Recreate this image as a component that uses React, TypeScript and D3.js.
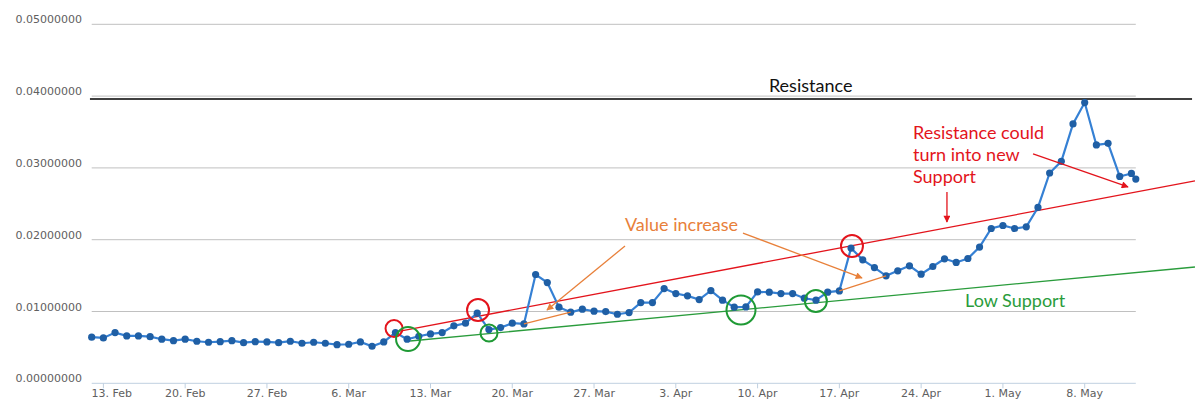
import React from "react";
import * as d3 from "d3";

// daily closing values from 12 Feb 2017, the last one is a partial day
const startDate = "2017-02-12";
const lastTimestamp = "2017-05-12T09:00:00Z";
const values = [
  0.00642, 0.00632, 0.00706, 0.0066, 0.0066, 0.0065, 0.00614, 0.00594, 0.00614, 0.00586,
  0.00572, 0.0058, 0.00594, 0.00566, 0.0058, 0.00576, 0.00566, 0.00586, 0.00558, 0.00572,
  0.00558, 0.00538, 0.00544, 0.00576, 0.00516, 0.00576, 0.00706, 0.00614, 0.00655, 0.00688,
  0.00706, 0.008, 0.00837, 0.00976, 0.00748, 0.00776, 0.00837, 0.00827, 0.01515, 0.01403,
  0.0106, 0.0099, 0.01032, 0.01004, 0.00999, 0.00962, 0.00985, 0.01124, 0.01124, 0.01319,
  0.0125, 0.01218, 0.01166, 0.01292, 0.01158, 0.0106, 0.01064, 0.01273, 0.01269, 0.0125,
  0.0125, 0.01185, 0.01158, 0.01269, 0.01287, 0.01883, 0.0172, 0.01612, 0.01497, 0.01566,
  0.01636, 0.0152, 0.01627, 0.01734, 0.01683, 0.01738, 0.01897, 0.02156, 0.02198, 0.02156,
  0.0218, 0.02449, 0.02929, 0.03091, 0.03612, 0.0391, 0.0332, 0.03342, 0.02881, 0.02923,
  0.02845,
];
const yTicks = [0, 0.01, 0.02, 0.03, 0.04, 0.05];

// hand drawn annotations, in (day offset, value)
const trendLines = [
  { color: "#e3141c", from: [26.39, 0.00728], to: [94.44, 0.02819] },
  { color: "#2a9c3c", from: [27.25, 0.00589], to: [94.44, 0.0162] },
];
const resistance = { from: [-0.15, 0.0396], to: [94.19, 0.0396] };
const circles = [
  { color: "#e3141c", at: [25.88, 0.00763], r: 8.5 },
  { color: "#1f9a35", at: [27.08, 0.00617], r: 12 },
  { color: "#e3141c", at: [33.07, 0.01021], r: 11 },
  { color: "#1f9a35", at: [34.01, 0.00701], r: 8.5 },
  { color: "#1f9a35", at: [55.58, 0.01021], r: 14.5 },
  { color: "#1f9a35", at: [61.99, 0.01146], r: 11 },
  { color: "#e3141c", at: [65.08, 0.01912], r: 11 },
];
const arrows = [
  { color: "#e8803a", from: [45.65, 0.01912], to: [38.97, 0.01021] },
  { color: "#e8803a", from: [55.75, 0.02093], to: [65.94, 0.01467] },
  { color: "#e3141c", from: [80.58, 0.03194], to: [88.71, 0.02735] },
  { color: "#e3141c", from: [73.21, 0.02665], to: [73.21, 0.02247] },
];
const increaseSpans = [
  [37, 41],
  [64, 68],
];
const labels = [
  { text: "Resistance", color: "#111", at: [57.97, 0.04057] },
  { text: "Resistance could", color: "#e3141c", at: [70.3, 0.03403] },
  { text: "turn into new", color: "#e3141c", at: [70.3, 0.03097] },
  { text: "Support", color: "#e3141c", at: [70.3, 0.0279] },
  { text: "Value increase", color: "#e8803a", at: [45.65, 0.02121] },
  { text: "Low Support", color: "#2a9c3c", at: [74.76, 0.01063] },
];

export default function App() {
  const width = 1201;
  const height = 411;
  const left = 91.7;
  const right = 1135.8;
  const top = 24.3;
  const bottom = 383.3;

  const start = new Date(startDate + "T00:00:00Z");
  const end = new Date(lastTimestamp);
  const dates = values.map((_, i) => (i === values.length - 1 ? end : d3.utcDay.offset(start, i)));

  const x = d3.scaleUtc().domain([start, end]).range([left, right]);
  const y = d3.scaleLinear().domain([0, 0.05]).range([bottom, top]);
  const day = (n: number) => x(new Date(start.getTime() + n * 864e5));
  const pt = (p: number[]) => [day(p[0]), y(p[1])];

  const line = d3
    .line<number>()
    .x((_, i) => x(dates[i]))
    .y((d) => y(d));

  const xTicks = x.ticks(d3.utcMonday.every(1) as any);
  const fmt = d3.utcFormat("%-d. %b");
  const axisFont = "'DejaVu Sans', Verdana, sans-serif";
  const noteFont = "Lato, 'Open Sans', sans-serif";

  return (
    <svg
      width={width}
      height={height}
      style={{ position: "absolute", left: 0, top: 0, background: "#fff" }}
    >
      <defs>
        {["#e8803a", "#e3141c"].map((c) => (
          <marker
            key={c}
            id={"head" + c.slice(1)}
            viewBox="0 0 10 10"
            refX="9"
            refY="5"
            markerWidth="9"
            markerHeight="7"
            markerUnits="userSpaceOnUse"
            orient="auto"
          >
            <path d="M0,0 L10,5 L0,10 z" fill={c} />
          </marker>
        ))}
      </defs>

      {/* grid */}
      {yTicks.filter((t) => t > 0).map((t) => (
        <line key={t} x1={left} x2={right} y1={y(t)} y2={y(t)} stroke="#c0c0c0" strokeWidth={1} />
      ))}
      {yTicks.map((t) => (
        <text
          key={"l" + t}
          x={82}
          y={y(t) - 1}
          textAnchor="end"
          fontFamily={axisFont}
          fontSize={11}
          fill="#606060"
        >
          {t.toFixed(8)}
        </text>
      ))}

      {/* x axis */}
      <line x1={left} x2={right} y1={bottom} y2={bottom} stroke="#c0d0e0" strokeWidth={1} />
      {xTicks.map((t) => {
        const tx = x(t);
        const lx = Math.max(tx, left + 20);
        return (
          <g key={+t}>
            <line x1={tx} x2={tx} y1={bottom} y2={bottom + 5} stroke="#c0d0e0" />
            <text
              x={lx}
              y={bottom + 14}
              textAnchor="middle"
              fontFamily={axisFont}
              fontSize={11}
              fill="#606060"
            >
              {fmt(t)}
            </text>
          </g>
        );
      })}

      {/* resistance */}
      <line
        x1={pt(resistance.from)[0]}
        y1={pt(resistance.from)[1]}
        x2={pt(resistance.to)[0]}
        y2={pt(resistance.to)[1]}
        stroke="#000"
        strokeWidth={1.5}
      />

      {/* trend lines */}
      {trendLines.map((l, i) => (
        <line
          key={i}
          x1={pt(l.from)[0]}
          y1={pt(l.from)[1]}
          x2={pt(l.to)[0]}
          y2={pt(l.to)[1]}
          stroke={l.color}
          strokeWidth={1.3}
        />
      ))}

      {/* series */}
      <path d={line(values) || ""} fill="none" stroke="#3580d4" strokeWidth={2.2} />
      {values.map((v, i) => (
        <circle key={i} cx={x(dates[i])} cy={y(v)} r={3.6} fill="#1f5fa5" />
      ))}

      {/* value increase spans */}
      {increaseSpans.map(([a, b], i) => (
        <line
          key={i}
          x1={x(dates[a])}
          y1={y(values[a])}
          x2={x(dates[b])}
          y2={y(values[b])}
          stroke="#e8803a"
          strokeWidth={1.3}
        />
      ))}

      {/* arrows */}
      {arrows.map((a, i) => (
        <line
          key={i}
          x1={pt(a.from)[0]}
          y1={pt(a.from)[1]}
          x2={pt(a.to)[0]}
          y2={pt(a.to)[1]}
          stroke={a.color}
          strokeWidth={1.3}
          markerEnd={`url(#head${a.color.slice(1)})`}
        />
      ))}

      {/* circles */}
      {circles.map((c, i) => (
        <circle
          key={i}
          cx={pt(c.at)[0]}
          cy={pt(c.at)[1]}
          r={c.r}
          fill="none"
          stroke={c.color}
          strokeWidth={2}
        />
      ))}

      {/* notes */}
      {labels.map((l, i) => (
        <text key={i} x={pt(l.at)[0]} y={pt(l.at)[1]} fontFamily={noteFont} fontSize={18} fill={l.color}>
          {l.text}
        </text>
      ))}
    </svg>
  );
}
